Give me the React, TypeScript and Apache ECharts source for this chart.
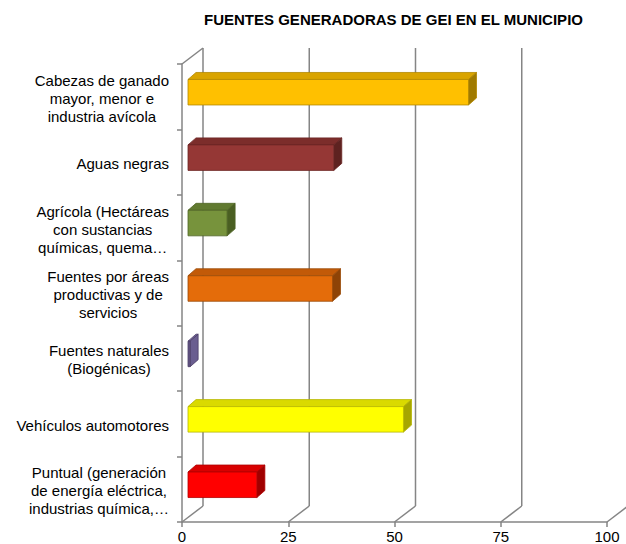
import React, { useEffect, useRef } from "react";
import * as echarts from "echarts";

const chartTitle = "FUENTES GENERADORAS DE GEI EN EL MUNICIPIO";
const categories = [
  "Cabezas de ganado\nmayor, menor e\nindustria avícola",
  "Aguas negras",
  "Agrícola (Hectáreas\ncon sustancias\nquímicas, quema…",
  "Fuentes por áreas\nproductivas y de\nservicios",
  "Fuentes naturales\n(Biogénicas)",
  "Vehículos automotores",
  "Puntual (generación\nde energía eléctrica,\nindustrias química,…",
];
const values = [66, 34.3, 9.2, 34, 0.5, 50.7, 16.2];
const xTicks = [0, 25, 50, 75, 100];

const frontColors = ["#FFC000", "#953735", "#77933C", "#E46C0A", "#655887", "#FFFF00", "#FF0000"];
const topColors = ["#D9A400", "#7C2D2B", "#617A30", "#C25A08", "#7468A0", "#DADA00", "#D80000"];
const sideColors = ["#A07A00", "#5E2220", "#4A5F22", "#8E4306", "#6A5E90", "#A6A600", "#A00000"];
const edgeColors = ["#B38800", "#6B2624", "#4F6424", "#9A4A07", "#4A3C66", "#B5B500", "#B00000"];

const FONT = "'Liberation Sans', Arial, sans-serif";
const GRAY = "#858585";
const DX = 21;
const DY = -16;

export default function App() {
  const ref = useRef<HTMLDivElement>(null);
  useEffect(() => {
    if (!ref.current) return;
    const chart = echarts.init(ref.current, null, { renderer: "svg" });
    const option: any = {
      animation: false,
      backgroundColor: "#ffffff",
      graphic: [
        {
          type: "text",
          x: 393.5,
          y: 19.5,
          style: {
            text: chartTitle,
            fill: "#000",
            font: `bold 15px ${FONT}`,
            textAlign: "center",
            textVerticalAlign: "middle",
          },
        },
      ],
      grid: { left: 182, right: 19, top: 64, bottom: 21, containLabel: false },
      xAxis: {
        type: "value",
        min: 0,
        max: 100,
        interval: 25,
        axisLine: { show: true, lineStyle: { color: GRAY, width: 1.5 } },
        axisTick: { show: true, length: 5, lineStyle: { color: GRAY, width: 1.5 } },
        splitLine: { show: false },
        axisLabel: { color: "#000", fontSize: 15, fontFamily: FONT, margin: 7 },
      },
      yAxis: {
        type: "category",
        data: categories,
        inverse: true,
        axisLine: { show: true, lineStyle: { color: GRAY, width: 1.5 } },
        axisTick: { show: true, length: 5, lineStyle: { color: GRAY, width: 1.5 } },
        splitLine: { show: false },
        axisLabel: {
          margin: 13,
          color: "#000",
          padding: [3, 0, 0, 0],
          formatter: (v: string) =>
            v
              .split("\n")
              .map((l) => `{c|${l}}`)
              .join("\n"),
          rich: {
            c: { align: "center", fontSize: 15, lineHeight: 18, fontFamily: FONT, color: "#000" },
          },
        },
      },
      series: [
        {
          type: "custom",
          silent: true,
          data: xTicks.map((t) => [t]),
          encode: { x: 0 },
          renderItem: (params: any, api: any) => {
            const v = api.value(0);
            const x = api.coord([v, 0])[0];
            const cs = params.coordSys;
            const top = cs.y;
            const bottom = cs.y + cs.height;
            const style = { stroke: GRAY, lineWidth: 1.5, fill: "none" };
            const children: any[] = [
              { type: "line", shape: { x1: x + DX, y1: top + DY, x2: x + DX, y2: bottom + DY }, style },
              { type: "line", shape: { x1: x, y1: bottom, x2: x + DX, y2: bottom + DY }, style },
            ];
            if (v === 0) {
              children.push({ type: "line", shape: { x1: x, y1: top, x2: x + DX, y2: top + DY }, style });
            }
            return { type: "group", children };
          },
          z: 1,
        },
        {
          type: "custom",
          data: values.map((v, i) => [v, i]),
          encode: { x: 0, y: 1 },
          renderItem: (params: any, api: any) => {
            const i = params.dataIndex;
            const idx = api.value(1);
            const v = api.value(0);
            const p0 = api.coord([0, idx]);
            const p1 = api.coord([v, idx]);
            const band = api.size([0, 1])[1];
            const h = band * 0.39;
            const xa = p0[0] + 6;
            const xb = p1[0] + 6;
            const yt = p0[1] - 4.5 - h / 2;
            const yb = yt + h;
            const dx = 8;
            const dy = -7;
            const stroke = edgeColors[i];
            return {
              type: "group",
              children: [
                {
                  type: "polygon",
                  shape: { points: [[xa, yt], [xb, yt], [xb + dx, yt + dy], [xa + dx, yt + dy]] },
                  style: { fill: topColors[i], stroke, lineWidth: 0.8 },
                },
                {
                  type: "polygon",
                  shape: { points: [[xb, yt], [xb + dx, yt + dy], [xb + dx, yb + dy], [xb, yb]] },
                  style: { fill: sideColors[i], stroke, lineWidth: 0.8 },
                },
                {
                  type: "rect",
                  shape: { x: xa, y: yt, width: Math.max(xb - xa, 0), height: h },
                  style: { fill: frontColors[i], stroke, lineWidth: 0.8 },
                },
              ],
            };
          },
          z: 2,
        },
      ],
    };
    chart.setOption(option);
    return () => chart.dispose();
  }, []);
  return (
    <div
      ref={ref}
      style={{ position: "fixed", left: 0, top: 0, width: 626, height: 544, background: "#fff" }}
    />
  );
}
